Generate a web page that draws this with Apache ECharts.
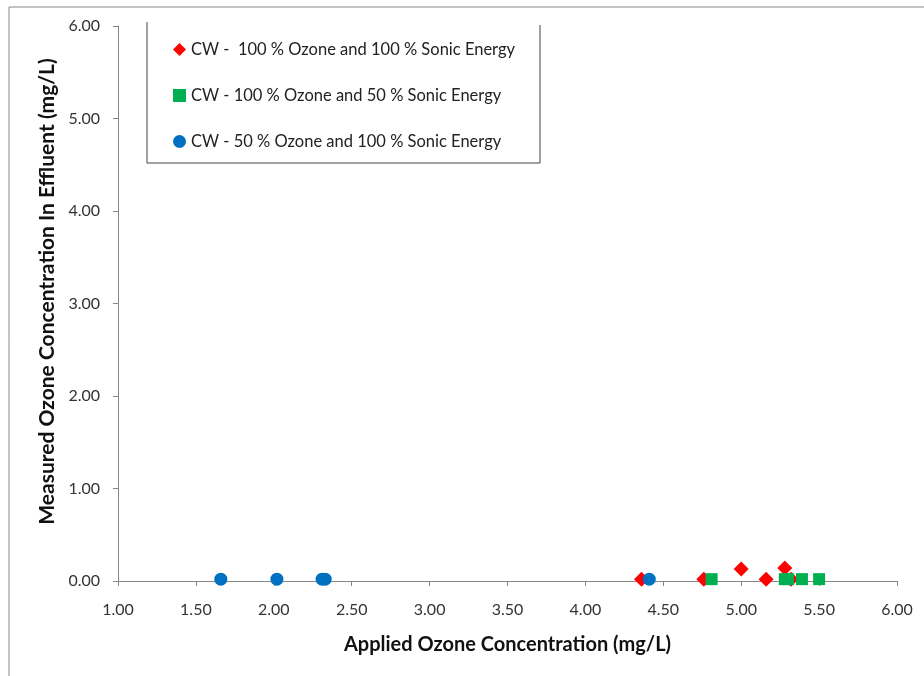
<!DOCTYPE html>
<html>
<head>
<meta charset="utf-8">
<script src="https://cdn.jsdelivr.net/npm/echarts@6/dist/echarts.min.js"></script>
<style>
  html, body { margin: 0; padding: 0; background: #fff; }
  #chart { width: 924px; height: 676px; }
</style>
</head>
<body>
<div id="chart"></div>
<script>
// series names
const seriesNames = [
  "CW -  100 % Ozone and 100 % Sonic Energy",
  "CW - 100 % Ozone and 50 % Sonic Energy",
  "CW - 50 % Ozone and 100 % Sonic Energy",
];

// applied ozone (x) / measured ozone (y)
const redX = [4.36, 4.76, 5.0, 5.16, 5.28, 5.32];
const redY = [0.02, 0.02, 0.13, 0.02, 0.14, 0.02];
const greenX = [4.81, 5.28, 5.3, 5.39, 5.5];
const greenY = [0.02, 0.02, 0.02, 0.02, 0.02];
const blueX = [1.66, 2.02, 2.31, 2.33, 4.41];
const blueY = [0.02, 0.02, 0.02, 0.02, 0.02];

const pair = (xs, ys) => xs.map((x, i) => [x, ys[i]]);

const font = "Lato";
const axisColor = "#868686";

const chart = echarts.init(document.getElementById("chart"));

chart.setOption({
  animation: false,
  textStyle: { fontFamily: font },
  grid: { left: 118, right: 27, top: 26, bottom: 95 },
  legend: {
    orient: "vertical",
    left: 168,
    top: 36,
    itemWidth: 13,
    itemHeight: 13,
    itemGap: 29,
    textStyle: { fontFamily: font, fontSize: 16.5, color: "#222" },
    data: [
      { name: seriesNames[0], icon: "diamond" },
      { name: seriesNames[1], icon: "rect" },
      { name: seriesNames[2], icon: "circle" },
    ],
  },
  xAxis: {
    type: "value",
    min: 1,
    max: 6,
    interval: 0.5,
    name: "Applied Ozone Concentration (mg/L)",
    nameLocation: "middle",
    nameGap: 54,
    nameTextStyle: { fontFamily: font, fontSize: 20, fontWeight: "bold", color: "#111" },
    axisLine: { lineStyle: { color: axisColor } },
    axisTick: { length: 5, lineStyle: { color: axisColor } },
    axisLabel: {
      margin: 21,
      fontSize: 16,
      color: "#333",
      formatter: (v) => v.toFixed(2),
    },
    splitLine: { show: false },
  },
  yAxis: {
    type: "value",
    min: 0,
    max: 6,
    interval: 1,
    name: "Measured Ozone Concentration In Effluent (mg/L)",
    nameLocation: "middle",
    nameGap: 60,
    nameTextStyle: {
      fontFamily: font,
      fontSize: 21,
      fontWeight: "bold",
      color: "#111",
      padding: [0, 0, 0, 24],
    },
    axisLine: { show: true, lineStyle: { color: axisColor } },
    axisTick: { show: true, length: 5, lineStyle: { color: axisColor } },
    axisLabel: {
      margin: 18,
      fontSize: 16,
      color: "#333",
      formatter: (v) => v.toFixed(2),
    },
    splitLine: { show: false },
  },
  graphic: [
    // outer chart frame
    {
      type: "polyline",
      shape: { points: [[9, 676], [9, 7], [924, 7]] },
      style: { stroke: "#888", lineWidth: 1, fill: null },
    },
    // legend frame
    {
      type: "polyline",
      shape: { points: [[147, 22], [147, 163], [540, 163], [540, 25]] },
      style: { stroke: "#444", lineWidth: 1, fill: null },
    },
  ],
  series: [
    {
      name: seriesNames[0],
      type: "scatter",
      symbol: "diamond",
      symbolSize: 15,
      itemStyle: { color: "#FF0000", opacity: 1 },
      data: pair(redX, redY),
    },
    {
      name: seriesNames[1],
      type: "scatter",
      symbol: "rect",
      symbolSize: 12,
      itemStyle: { color: "#00B050", opacity: 1 },
      data: pair(greenX, greenY),
    },
    {
      name: seriesNames[2],
      type: "scatter",
      symbol: "circle",
      symbolSize: 13,
      itemStyle: { color: "#0070C0", opacity: 1 },
      data: pair(blueX, blueY),
    },
  ],
});
</script>
</body>
</html>
